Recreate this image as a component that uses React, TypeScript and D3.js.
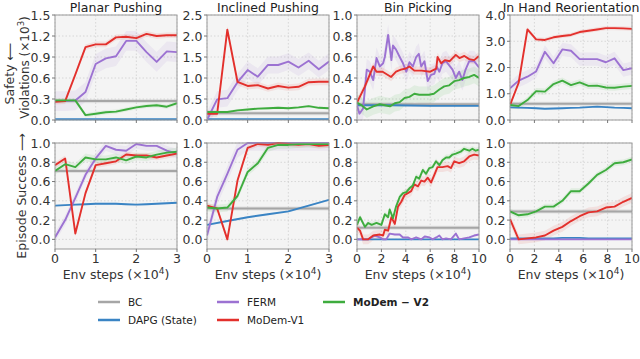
import React from "react";
import * as d3 from "d3";

// ---- data ----
const STEPS_3 = [0, 0.25, 0.5, 0.75, 1, 1.25, 1.5, 1.75, 2, 2.25, 2.5, 2.75, 3];
const STEPS_3_HALF = [0, 0.5, 1, 1.5, 2, 2.5, 3];
const STEPS_10 = [0, 0.71, 1.43, 2.14, 2.86, 3.57, 4.29, 5, 5.71, 6.43, 7.14, 7.86, 8.57, 9.29, 10];

const titles = ["Planar Pushing", "Inclined Pushing", "Bin Picking", "In Hand Reorientation"];
const xMax = [3, 3, 10, 10];
const xTicks = [[0, 1, 2, 3], [0, 1, 2, 3], [0, 2, 4, 6, 8, 10], [0, 2, 4, 6, 8, 10]];
const safetyMax = [1.5, 2.5, 1.0, 4.0];
const safetyTicks = [
  [0, 0.3, 0.6, 0.9, 1.2, 1.5],
  [0, 0.5, 1.0, 1.5, 2.0, 2.5],
  [0, 0.2, 0.4, 0.6, 0.8, 1.0],
  [0, 1, 2, 3, 4],
];
const successTicks = [0, 0.2, 0.4, 0.6, 0.8, 1.0];

// BC is a flat line per panel
const bcSafety = [0.27, 0.16, 0.15, 0.62];
const bcSuccess = [0.71, 0.32, 0.12, 0.29];

// planar pushing
const ppSafetyDapg = [0.01, 0.01, 0.01, 0.01, 0.01, 0.01, 0.01, 0.01, 0.01, 0.01, 0.01, 0.01, 0.01];
const ppSafetyFerm = [0.27, 0.27, 0.28, 0.4, 0.8, 0.88, 0.91, 1.13, 1.13, 0.97, 0.83, 0.98, 0.97];
const ppSafetyV1 = [0.26, 0.27, 0.65, 1.04, 1.08, 1.08, 1.18, 1.19, 1.17, 1.23, 1.2, 1.21, 1.21];
const ppSafetyV2 = [0.28, 0.28, 0.28, 0.07, 0.09, 0.11, 0.12, 0.15, 0.18, 0.2, 0.21, 0.19, 0.24];
const ppSuccessDapg = [0.35, 0.355, 0.36, 0.365, 0.37, 0.37, 0.37, 0.365, 0.36, 0.365, 0.37, 0.375, 0.38];
const ppSuccessFerm = [0.02, 0.2, 0.43, 0.67, 0.84, 0.97, 0.93, 0.92, 0.99, 0.97, 0.97, 0.92, 0.89];
const ppSuccessV1 = [0.77, 0.84, 0.06, 0.48, 0.77, 0.79, 0.81, 0.88, 0.87, 0.87, 0.85, 0.87, 0.89];
const ppSuccessV2 = [0.71, 0.78, 0.75, 0.85, 0.83, 0.83, 0.85, 0.82, 0.86, 0.85, 0.88, 0.9, 0.91];

// inclined pushing
const ipSafetyDapg = [0.02, 0.02, 0.02, 0.02, 0.02, 0.02, 0.02, 0.02, 0.02, 0.02, 0.02, 0.02, 0.02];
const ipSafetyFerm = [0.0, 0.49, 0.52, 0.9, 1.19, 1.03, 1.31, 1.31, 1.39, 1.25, 1.41, 1.21, 1.39];
const ipSafetyV1 = [0.15, 0.15, 2.15, 0.91, 0.81, 0.83, 0.75, 0.81, 0.77, 0.79, 0.9, 0.91, 0.91];
const ipSafetyV2 = [0.19, 0.19, 0.19, 0.23, 0.25, 0.27, 0.28, 0.29, 0.28, 0.3, 0.33, 0.29, 0.28];
const ipSuccessDapg = [0.15, 0.19, 0.23, 0.26, 0.29, 0.35, 0.41];
const ipSuccessFerm = [0.04, 0.44, 0.68, 0.93, 1.0, 1.0, 1.0, 1.0, 1.0, 1.0, 1.0, 1.0, 1.0];
const ipSuccessV1 = [0.35, 0.32, 0.0, 0.61, 0.95, 0.99, 0.98, 1.0, 0.99, 0.98, 0.99, 0.97, 0.98];
const ipSuccessV2 = [0.33, 0.32, 0.33, 0.45, 0.7, 0.79, 0.95, 0.98, 0.98, 0.99, 0.99, 0.99, 0.99];

// bin picking ([step, value] pairs, logged densely)
const bpSafetyDapg: [number, number][] = [[0, 0.14], [3, 0.14], [6, 0.135], [10, 0.135]];
const bpSafetyFerm: [number, number][] = [
  [0, 0.14], [0.2, 0.06], [0.5, 0.11], [0.8, 0.48], [1.05, 0.46], [1.33, 0.38], [1.6, 0.59],
  [1.87, 0.51], [2.14, 0.54], [2.28, 0.6], [2.55, 0.81], [2.82, 0.57], [2.95, 0.71], [3.2, 0.67],
  [3.5, 0.6], [3.77, 0.54], [4.04, 0.46], [4.3, 0.55], [4.58, 0.51], [4.85, 0.6], [5.07, 0.63],
  [5.26, 0.51], [5.53, 0.56], [5.8, 0.37], [6.07, 0.43], [6.34, 0.44], [6.53, 0.51], [6.75, 0.46],
  [7.0, 0.54], [7.3, 0.56], [7.56, 0.52], [7.83, 0.48], [8.1, 0.4], [8.37, 0.46], [8.64, 0.38],
  [8.9, 0.48], [9.2, 0.56], [9.6, 0.56], [10, 0.5],
];
const bpSafetyV1: [number, number][] = [
  [0, 0.165], [0.65, 0.32], [1.33, 0.51], [1.6, 0.46], [2.1, 0.46], [2.8, 0.41], [3.2, 0.46],
  [3.6, 0.48], [4.0, 0.49], [4.3, 0.51], [4.7, 0.47], [5.3, 0.47], [6.0, 0.46], [6.5, 0.49],
  [6.6, 0.6], [6.9, 0.54], [7.2, 0.57], [7.6, 0.56], [8.1, 0.62], [8.4, 0.59], [8.8, 0.61],
  [9.2, 0.58], [9.6, 0.57], [10, 0.61],
];
const bpSafetyV2: [number, number][] = [
  [0, 0.165], [0.38, 0.14], [0.8, 0.1], [1.33, 0.13], [1.87, 0.15], [2.28, 0.14], [2.7, 0.13],
  [3.1, 0.16], [3.5, 0.17], [3.9, 0.21], [4.3, 0.22], [4.7, 0.25], [5.1, 0.24], [5.5, 0.24],
  [5.9, 0.24], [6.3, 0.25], [6.75, 0.29], [7.15, 0.32], [7.56, 0.33], [7.97, 0.37], [8.37, 0.38],
  [8.78, 0.4], [9.2, 0.41], [9.6, 0.43], [10, 0.4],
];
const bpSuccessDapg: [number, number][] = [[0, 0.0], [10, 0.0]];
const bpSuccessFerm: [number, number][] = [
  [0, 0], [0.92, 0], [1.2, 0.02], [1.46, 0.04], [1.87, 0.02], [2.14, 0], [2.4, 0], [2.68, 0.06],
  [3.1, 0.05], [3.5, 0.05], [3.77, 0.02], [4.2, 0.02], [4.45, 0], [4.85, 0.02], [5.26, 0],
  [5.55, 0.03], [5.95, 0.02], [6.2, 0], [6.5, 0.02], [6.75, 0.04], [7.0, 0], [7.3, 0.01],
  [7.7, 0], [8.1, 0.06], [8.37, 0], [8.78, 0.01], [9.2, 0.02], [9.6, 0.04], [10, 0.05],
];
const bpSuccessV1: [number, number][] = [
  [0, 0.12], [0.25, 0.09], [0.5, 0.0], [0.92, 0.0], [1.33, 0.04], [1.87, 0.05], [2.14, 0.04],
  [2.28, 0.1], [2.55, 0.09], [2.82, 0.23], [3.1, 0.16], [3.36, 0.34], [3.63, 0.39], [3.9, 0.46],
  [4.17, 0.48], [4.44, 0.5], [4.7, 0.57], [5.0, 0.55], [5.26, 0.61], [5.53, 0.6], [5.8, 0.64],
  [6.07, 0.59], [6.34, 0.67], [6.6, 0.75], [7.0, 0.75], [7.43, 0.76], [7.7, 0.74], [7.97, 0.81],
  [8.37, 0.79], [8.78, 0.81], [9.2, 0.86], [9.6, 0.88], [10, 0.87],
];
const bpSuccessV2: [number, number][] = [
  [0, 0.15], [0.25, 0.23], [0.65, 0.13], [0.92, 0.17], [1.2, 0.15], [1.6, 0.17], [2.0, 0.15],
  [2.28, 0.26], [2.55, 0.23], [2.68, 0.31], [2.95, 0.22], [3.2, 0.34], [3.5, 0.44], [3.77, 0.48],
  [4.04, 0.49], [4.3, 0.53], [4.58, 0.56], [4.85, 0.65], [5.1, 0.63], [5.4, 0.72], [5.66, 0.68],
  [5.93, 0.74], [6.2, 0.75], [6.48, 0.81], [6.75, 0.77], [7.0, 0.82], [7.3, 0.85], [7.56, 0.85],
  [7.83, 0.88], [8.1, 0.89], [8.5, 0.91], [8.78, 0.94], [9.2, 0.92], [9.46, 0.94], [9.73, 0.92],
  [10, 0.93],
];

// in hand reorientation
const ihSafetyDapg = [0.48, 0.47, 0.46, 0.45, 0.43, 0.44, 0.45, 0.46, 0.47, 0.49, 0.51, 0.49, 0.47, 0.46, 0.45];
const ihSafetyFerm = [1.21, 1.5, 1.65, 1.85, 2.6, 2.16, 2.69, 2.64, 2.32, 2.32, 2.32, 2.2, 2.35, 1.9, 1.97];
const ihSafetyV1 = [0.57, 1.42, 3.45, 3.07, 3.05, 3.15, 3.2, 3.24, 3.35, 3.4, 3.45, 3.5, 3.5, 3.49, 3.47];
const ihSafetyV2 = [0.57, 0.53, 0.76, 1.1, 1.08, 1.37, 1.5, 1.33, 1.43, 1.3, 1.31, 1.24, 1.23, 1.27, 1.3];
const ihSuccessDapg = [0.01, 0.01, 0.01, 0.01, 0.01, 0.01, 0.015, 0.015, 0.015, 0.01, 0.01, 0.01, 0.01, 0.01, 0.01];
const ihSuccessFerm = [0, 0, 0, 0, 0, 0, 0, 0, 0, 0, 0, 0, 0, 0, 0];
const ihSuccessV1 = [0.21, 0.0, 0.01, 0.02, 0.04, 0.09, 0.13, 0.19, 0.24, 0.28, 0.29, 0.33, 0.34, 0.39, 0.43];
const ihSuccessV2 = [0.29, 0.25, 0.26, 0.29, 0.34, 0.34, 0.4, 0.5, 0.5, 0.58, 0.67, 0.72, 0.79, 0.8, 0.83];

const legendItems = [
  { key: "bc", label: "BC" },
  { key: "dapg", label: "DAPG (State)" },
  { key: "ferm", label: "FERM" },
  { key: "v1", label: "MoDem-V1" },
  { key: "v2", label: "MoDem \u2212 V2" },
];

// ---- styling ----
const colors: Record<string, string> = {
  bc: "#a6a6a6",
  dapg: "#3a84c4",
  ferm: "#9c72d2",
  v1: "#e3302c",
  v2: "#3eac3e",
};
const FONT = "DejaVu Sans, sans-serif";
const TICK_FS = 12.5;
const panelX = [55, 207, 357, 510];
const panelW = 122;
const topBox = [15, 120];
const botBox = [143, 249];

const zip = (xs: number[], ys: number[]) => ys.map((y, i) => [xs[i], y] as [number, number]);

type Series = { key: string; pts: [number, number][]; spread: number };

const safetySeries: Series[][] = [
  [
    { key: "dapg", pts: zip(STEPS_3, ppSafetyDapg), spread: 0.01 },
    { key: "ferm", pts: zip(STEPS_3, ppSafetyFerm), spread: 0.14 },
    { key: "v1", pts: zip(STEPS_3, ppSafetyV1), spread: 0.04 },
    { key: "v2", pts: zip(STEPS_3, ppSafetyV2), spread: 0.03 },
  ],
  [
    { key: "dapg", pts: zip(STEPS_3, ipSafetyDapg), spread: 0.01 },
    { key: "ferm", pts: zip(STEPS_3, ipSafetyFerm), spread: 0.2 },
    { key: "v1", pts: zip(STEPS_3, ipSafetyV1), spread: 0.08 },
    { key: "v2", pts: zip(STEPS_3, ipSafetyV2), spread: 0.03 },
  ],
  [
    { key: "dapg", pts: bpSafetyDapg, spread: 0.01 },
    { key: "ferm", pts: bpSafetyFerm, spread: 0.1 },
    { key: "v1", pts: bpSafetyV1, spread: 0.04 },
    { key: "v2", pts: bpSafetyV2, spread: 0.08 },
  ],
  [
    { key: "dapg", pts: zip(STEPS_10, ihSafetyDapg), spread: 0.03 },
    { key: "ferm", pts: zip(STEPS_10, ihSafetyFerm), spread: 0.25 },
    { key: "v1", pts: zip(STEPS_10, ihSafetyV1), spread: 0.08 },
    { key: "v2", pts: zip(STEPS_10, ihSafetyV2), spread: 0.12 },
  ],
];

const successSeries: Series[][] = [
  [
    { key: "dapg", pts: zip(STEPS_3, ppSuccessDapg), spread: 0.01 },
    { key: "ferm", pts: zip(STEPS_3, ppSuccessFerm), spread: 0.05 },
    { key: "v1", pts: zip(STEPS_3, ppSuccessV1), spread: 0.03 },
    { key: "v2", pts: zip(STEPS_3, ppSuccessV2), spread: 0.04 },
  ],
  [
    { key: "dapg", pts: zip(STEPS_3_HALF, ipSuccessDapg), spread: 0.01 },
    { key: "ferm", pts: zip(STEPS_3, ipSuccessFerm), spread: 0.08 },
    { key: "v1", pts: zip(STEPS_3, ipSuccessV1), spread: 0.03 },
    { key: "v2", pts: zip(STEPS_3, ipSuccessV2), spread: 0.04 },
  ],
  [
    { key: "dapg", pts: bpSuccessDapg, spread: 0.0 },
    { key: "ferm", pts: bpSuccessFerm, spread: 0.01 },
    { key: "v1", pts: bpSuccessV1, spread: 0.05 },
    { key: "v2", pts: bpSuccessV2, spread: 0.03 },
  ],
  [
    { key: "dapg", pts: zip(STEPS_10, ihSuccessDapg), spread: 0.005 },
    { key: "ferm", pts: zip(STEPS_10, ihSuccessFerm), spread: 0.0 },
    { key: "v1", pts: zip(STEPS_10, ihSuccessV1), spread: 0.05 },
    { key: "v2", pts: zip(STEPS_10, ihSuccessV2), spread: 0.03 },
  ],
];

function Panel({ i, row }: { i: number; row: "top" | "bot" }) {
  const box = row === "top" ? topBox : botBox;
  const x = d3.scaleLinear().domain([0, xMax[i]]).range([panelX[i], panelX[i] + panelW]);
  const y = row === "top"
    ? d3.scaleLinear().domain([0, safetyMax[i]]).range([box[1], box[0]])
    : d3.scaleLinear().domain([-0.1, 1.0]).range([box[1], box[0]]);
  const yt = row === "top" ? safetyTicks[i] : successTicks;
  const series = row === "top" ? safetySeries[i] : successSeries[i];
  const bc = row === "top" ? bcSafety[i] : bcSuccess[i];
  const clipId = `clip-${row}-${i}`;
  const line = d3.line<[number, number]>().x(d => x(d[0])).y(d => y(d[1]));
  const fmt = d3.format(".1f");
  const bottomY = box[1];

  return (
    <g>
      <defs>
        <clipPath id={clipId}>
          <rect x={panelX[i]} y={box[0] - 1} width={panelW} height={box[1] - box[0] + 2} />
        </clipPath>
      </defs>
      <rect x={panelX[i]} y={box[0]} width={panelW} height={box[1] - box[0]} fill="#f4f4f4" />
      {xTicks[i].map(t => (
        <line key={"gx" + t} x1={x(t)} x2={x(t)} y1={box[0]} y2={box[1]}
          stroke="#cfcfcf" strokeWidth={0.8} strokeDasharray="1.5,2" />
      ))}
      {yt.map(t => (
        <line key={"gy" + t} x1={panelX[i]} x2={panelX[i] + panelW} y1={y(t)} y2={y(t)}
          stroke="#cfcfcf" strokeWidth={0.8} strokeDasharray="1.5,2" />
      ))}
      <g clipPath={`url(#${clipId})`}>
        {series.filter(s => s.spread > 0).map(s => (
          <path key={"band" + s.key}
            d={d3.area<[number, number]>()
              .x(d => x(d[0]))
              .y0(d => y(d[1] - s.spread))
              .y1(d => y(d[1] + s.spread))(s.pts) || ""}
            fill={colors[s.key]} fillOpacity={0.1} />
        ))}
        <rect x={panelX[i]} y={y(bc) - 2} width={panelW} height={4} fill="#bdbdbd" fillOpacity={0.35} />
        <line x1={panelX[i]} x2={panelX[i] + panelW} y1={y(bc)} y2={y(bc)}
          stroke={colors.bc} strokeWidth={2} />
        {series.map(s => (
          <path key={s.key} d={line(s.pts) || ""} fill="none" stroke={colors[s.key]}
            strokeWidth={1.9} strokeLinejoin="round" />
        ))}
      </g>
      <rect x={panelX[i]} y={box[0]} width={panelW} height={box[1] - box[0]}
        fill="none" stroke="#9a9a9a" strokeWidth={1} />
      {yt.map(t => (
        <g key={"yt" + t}>
          <line x1={panelX[i] - 3} x2={panelX[i]} y1={y(t)} y2={y(t)} stroke="#777" />
          <text x={panelX[i] - 4.5} y={y(t)} dy="0.36em" textAnchor="end"
            fontSize={TICK_FS} fill="#333" fontFamily={FONT}>{fmt(t)}</text>
        </g>
      ))}
      {xTicks[i].map(t => (
        <line key={"xt" + t} x1={x(t)} x2={x(t)} y1={bottomY} y2={bottomY + 3} stroke="#777" />
      ))}
      {row === "bot" && xTicks[i].map(t => (
        <text key={"xl" + t} x={x(t)} y={bottomY + 14} textAnchor="middle"
          fontSize={TICK_FS} fill="#333" fontFamily={FONT}>{t}</text>
      ))}
      {row === "bot" && (
        <text x={panelX[i] + panelW / 2} y={bottomY + 30} textAnchor="middle"
          fontSize={12.5} fill="#333" fontFamily={FONT}>
          Env steps ({"\u00d7"}10<tspan dy="-5" fontSize={9}>4</tspan><tspan dy="5">)</tspan>
        </text>
      )}
      {row === "top" && (
        <text x={panelX[i] + panelW / 2} y={11.5} textAnchor="middle"
          fontSize={12.5} fill="#222" fontFamily={FONT}>{titles[i]}</text>
      )}
    </g>
  );
}

export default function App() {
  const topMid = (topBox[0] + topBox[1]) / 2;
  const botMid = (botBox[0] + botBox[1]) / 2;
  return (
    <svg width={640} height={359} style={{ position: "absolute", left: 0, top: 0, background: "#fff" }}>
      {[0, 1, 2, 3].map(i => <Panel key={"t" + i} i={i} row="top" />)}
      {[0, 1, 2, 3].map(i => <Panel key={"b" + i} i={i} row="bot" />)}

      <text transform={`translate(14,${topMid + 6}) rotate(-90)`} textAnchor="middle"
        fontSize={12.5} fill="#333" fontFamily={FONT}>Safety {"\u27f5"}</text>
      <text transform={`translate(29,${topMid}) rotate(-90)`} textAnchor="middle"
        fontSize={12} fill="#333" fontFamily={FONT}>
        Violations ({"\u00d7"}10<tspan dy="-5" fontSize={8.5}>3</tspan><tspan dy="5">)</tspan>
      </text>
      <text transform={`translate(26,${botMid}) rotate(-90)`} textAnchor="middle"
        fontSize={12.5} fill="#333" fontFamily={FONT}>Episode Success {"\u27f6"}</text>

      {legendItems.map((it, k) => {
        const col = k < 2 ? 0 : k < 4 ? 1 : 2;
        const rowI = k < 2 ? k : k < 4 ? k - 2 : 0;
        const lx = [98, 217, 323][col];
        const ly = 302 + rowI * 18;
        return (
          <g key={it.key}>
            <line x1={lx} x2={lx + 22} y1={ly} y2={ly} stroke={colors[it.key]} strokeWidth={2.5} />
            <text x={lx + 30} y={ly} dy="0.35em" fontSize={10.5} fill="#222" fontFamily={FONT}
              fontWeight={it.key === "v2" ? "bold" : "normal"}>{it.label}</text>
          </g>
        );
      })}
    </svg>
  );
}
